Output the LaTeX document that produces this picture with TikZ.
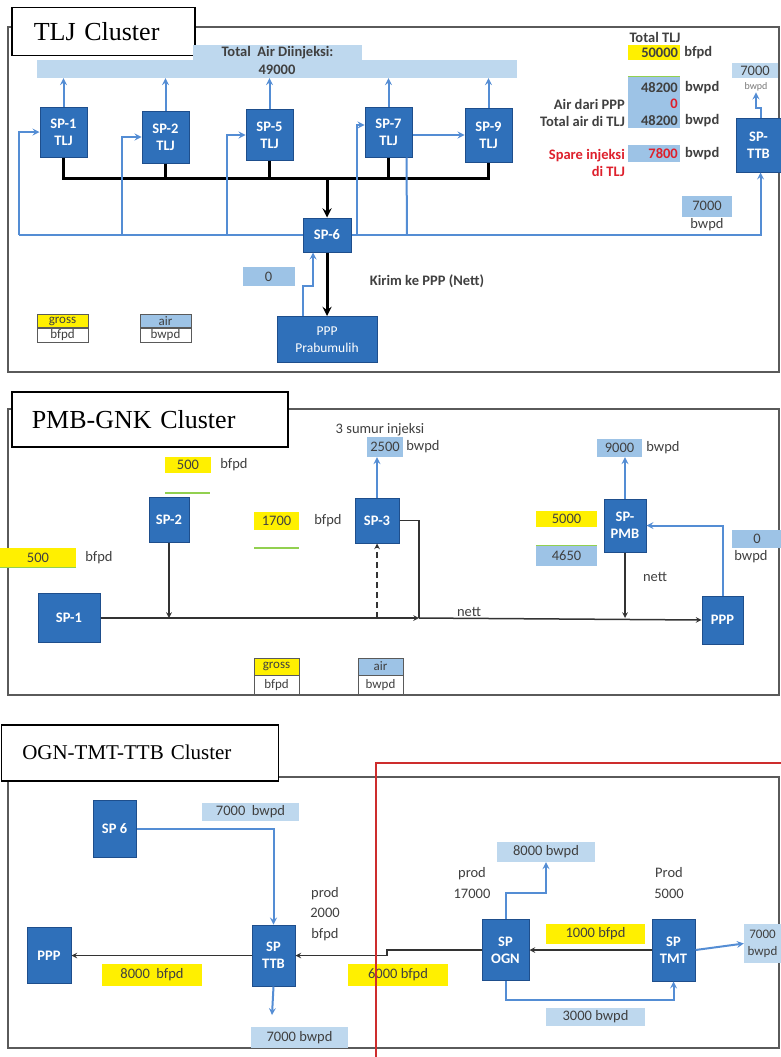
\documentclass[tikz,border=0pt]{standalone}
\usepackage{fontspec}
\setmainfont{Liberation Serif}
\setsansfont{Carlito}
\usetikzlibrary{shapes,arrows,positioning}

\definecolor{spblue}{RGB}{47,112,186}
\definecolor{spedge}{RGB}{30,78,140}
\definecolor{airblue}{RGB}{157,195,230}
\definecolor{paleblue}{RGB}{190,216,238}
\definecolor{grossyellow}{RGB}{255,240,0}
\definecolor{lineblue}{RGB}{84,141,212}
\definecolor{txtgray}{RGB}{64,64,64}
\definecolor{framegray}{RGB}{90,90,90}
\definecolor{sepgreen}{RGB}{146,208,80}
\definecolor{redtxt}{RGB}{222,32,44}
\definecolor{redframe}{RGB}{205,45,45}

\tikzstyle{sp} = [draw=spedge,fill=spblue,text=white,line width=1pt,font=\sffamily\bfseries\fontsize{14.5}{17}\selectfont,align=center,inner sep=0pt]
\tikzstyle{clustertitle} = [draw=black,fill=white,line width=1.5pt,font=\rmfamily\fontsize{26}{30}\selectfont,align=left,inner ysep=0pt]
\tikzstyle{lbl} = [font=\sffamily\fontsize{14.5}{17}\selectfont,text=txtgray,inner sep=1pt]
\tikzstyle{blbl} = [lbl,font=\sffamily\bfseries\fontsize{14.5}{17}\selectfont]
\tikzstyle{gross} = [lbl,fill=grossyellow,inner sep=0pt]
\tikzstyle{air} = [lbl,fill=airblue,inner sep=0pt]
\tikzstyle{pale} = [lbl,fill=paleblue,inner sep=0pt]
\tikzstyle{legendbox} = [lbl,draw=framegray,line width=0.6pt,font=\sffamily\fontsize{13}{14}\selectfont,inner sep=0pt]
\tikzstyle{bus} = [draw=black,line width=3pt]
\tikzstyle{flow} = [draw=black!80,line width=1.5pt]
\tikzstyle{water} = [draw=lineblue,line width=2pt]
\tikzstyle{clusterframe} = [draw=framegray,line width=1.8pt]
\tikzstyle{greenline} = [draw=sepgreen,line width=1.2pt]

\begin{document}
\begin{tikzpicture}[x=1pt,y=-1pt,>=stealth]
  \useasboundingbox (0,0) rectangle (781,1057);
  \clip (0,0) rectangle (781,1057);
  \fill[white] (0,0) rectangle (781,1057);

  %%%%% TLJ cluster
  \draw[clusterframe] (8,27) rectangle (779,372);
  \node[clustertitle,anchor=north west,text width=139,inner xsep=22,minimum height=48] (tljtitle) at (11,7) {TLJ Cluster};

  %injection bar
  \node[pale,minimum width=480,minimum height=18] (bar) at (277,69) {};
  \node[pale,minimum width=169,minimum height=16] (barcap) at (277.5,53) {};
  \node[blbl] (barlbl) at (277.5,53) {Total\ \ Air Diinjeksi:};
  \node[blbl] (barval) at (277,70) {49000};

  %SP boxes
  \node[sp,minimum width=47,minimum height=50] (sp1) at (63.5,132) {SP-1\\TLJ};
  \node[sp,minimum width=47,minimum height=52] (sp2) at (165.5,137) {SP-2\\TLJ};
  \node[sp,minimum width=47,minimum height=51] (sp5) at (269.5,135) {SP-5\\TLJ};
  \node[sp,minimum width=47,minimum height=50] (sp7) at (388.5,132) {SP-7\\TLJ};
  \node[sp,minimum width=47,minimum height=54] (sp9) at (488.5,135) {SP-9\\TLJ};
  \node[sp,minimum width=45,minimum height=54] (spttb) at (758.5,145) {SP-\\TTB};
  \node[sp,minimum width=48,minimum height=34] (sp6) at (327,235) {SP-6};
  \node[sp,minimum width=100,minimum height=46,font=\sffamily\fontsize{13.5}{17}\selectfont] (ppp) at (327,339.5) {PPP\\Prabumulih};

  %totals
  \node[blbl] (tljtot) at (655,37) {Total TLJ};
  \node[gross,minimum width=52,minimum height=15,text width=48,align=right] (tljgross) at (654,52.5) {\bfseries 50000};
  \node[blbl,right=3pt of tljgross] (tljgu) {bfpd};
  \node[air,minimum width=52,minimum height=51] (airblk) at (654,102.5) {};
  \draw[greenline] (airblk.north west) -- (airblk.north east);
  \node[blbl,anchor=east] (tljw1) at (679,88) {48200};
  \node[blbl,anchor=west] (tljw1u) at (684,88) {bwpd};
  \node[blbl,anchor=east] (ppplbl) at (626,104) {Air dari PPP};
  \node[blbl,anchor=east,text=redtxt] (pppval) at (679,104) {0};
  \node[blbl,anchor=east] (tljw2lbl) at (626,121) {Total air di TLJ};
  \node[blbl,anchor=east] (tljw2) at (679,121) {48200};
  \node[blbl,anchor=west] (tljw2u) at (684,121) {bwpd};
  \node[air,minimum width=52,minimum height=17] (spareblk) at (654,153.5) {};
  \node[blbl,anchor=east,text=redtxt] (spare) at (679,154) {7800};
  \node[blbl,anchor=west] (spareu) at (684,154) {bwpd};
  \node[blbl,anchor=east,text=redtxt,align=right] (sparelbl) at (626,162.5) {Spare injeksi\\di TLJ};

  %TTB water
  \node[pale,minimum width=46,minimum height=15] (ttbval) at (755,70.5) {7000};
  \node[lbl,font=\sffamily\fontsize{10}{12}\selectfont,text=txtgray!70] (ttbunit) at (756,87) {bwpd};
  \node[air,minimum width=50,minimum height=21] (ttbin) at (707,206) {7000};
  \node[lbl,below=1pt of ttbin] (ttbinu) {bwpd};

  \node[air,minimum width=52,minimum height=19] (retval) at (268.5,276.5) {0};
  \node[blbl] (kirim) at (427,281) {Kirim ke PPP (Nett)};

  %legend
  \node[legendbox,fill=grossyellow,minimum width=51,minimum height=13] (tljgr) at (62.5,321) {gross};
  \node[legendbox,below=0pt of tljgr,minimum width=51,minimum height=14] (tljbf) {bfpd};
  \node[legendbox,fill=airblue,minimum width=51,minimum height=13] (tljair) at (165.5,321) {air};
  \node[legendbox,below=0pt of tljair,minimum width=51,minimum height=14] (tljbw) {bwpd};

  %oil bus
  \coordinate (busl) at (63.5,178);
  \coordinate (busr) at (488.5,178);
  \draw[bus] (sp1.south) -- (busl) -- (busr) -- (sp9.south);
  \draw[bus] (sp2.south) -- (sp2.south |- busl);
  \draw[bus] (sp5.south) -- (sp5.south |- busl);
  \draw[bus] (sp7.south) -- (sp7.south |- busl);
  \draw[bus,->] (sp6.north |- busl) -- (sp6.north);
  \draw[bus,->] (sp6.south) -- (ppp.north);

  %injection arrows
  \draw[water,->] (sp1.north) -- (sp1.north |- bar.south);
  \draw[water,->] (sp2.north) -- (sp2.north |- bar.south);
  \draw[water,->] (sp5.north) -- (sp5.north |- bar.south);
  \draw[water,->] (sp7.north) -- (sp7.north |- bar.south);
  \draw[water,->] (sp9.north) -- (sp9.north |- bar.south);

  %water ring
  \coordinate (wl) at (19,235);
  \coordinate (w2) at (122,235);
  \coordinate (w5) at (227,235);
  \coordinate (w7) at (357,235);
  \coordinate (w7b) at (407,235);
  \draw[water] (sp6.west) -- (wl);
  \draw[water,->] (wl) |- (sp1.west);
  \draw[water,->] (w2) |- (sp2.west);
  \draw[water,->] (w5) |- (sp5.west);
  \draw[water,->] (w7) |- ([yshift=7pt]sp7.west);
  \draw[water] ([xshift=18pt]sp7.south) -- (w7b);
  \draw[water,->] (sp7.east |- sp9.west) -- (sp9.west);
  \draw[water,->] (sp6.east) -| ([xshift=2pt]spttb.south);
  \draw[water,->] ([xshift=2pt]spttb.north) -- ++(0,-10) -| (ttbunit.south);
  \draw[water,->] ([xshift=-24pt]ppp.north) -- ++(0,-30) -| ([xshift=-14pt]sp6.south);

  %%%%% PMB-GNK cluster
  \draw[clusterframe] (8,409) rectangle (779,695);
  \node[clustertitle,anchor=north west,text width=236,inner xsep=20,minimum height=55] (pmbtitle) at (11,391) {PMB-GNK Cluster};

  \node[sp,minimum width=62,minimum height=49] (pm1) at (69,618) {SP-1};
  \node[sp,minimum width=40,minimum height=45] (pm2) at (169,519.5) {SP-2};
  \node[sp,minimum width=44,minimum height=45] (pm3) at (377,520.5) {SP-3};
  \node[sp,minimum width=42,minimum height=53] (pmb) at (625,525.5) {SP-\\PMB};
  \node[sp,minimum width=41,minimum height=48] (pmppp) at (722.5,620) {PPP};

  %values
  \node[gross,minimum width=76,minimum height=19] (pm1g) at (38,557.5) {500};
  \draw[greenline] (pm1g.south west) -- (pm1g.south east);
  \node[lbl,right=8pt of pm1g] (pm1gu) {bfpd};
  \node[gross,minimum width=46,minimum height=16] (pm2g) at (188,465) {500};
  \node[lbl,right=8pt of pm2g] (pm2gu) {bfpd};
  \coordinate (pm2gl) at (165,493);
  \coordinate (pm2gr) at (210,493);
  \draw[greenline] (pm2gl) -- (pm2gr);
  \node[gross,minimum width=45,minimum height=18] (pm3g) at (276.5,521) {1700};
  \node[lbl,right=14pt of pm3g] (pm3gu) {bfpd};
  \coordinate (pm3gl) at (254,548);
  \coordinate (pm3gr) at (299,548);
  \draw[greenline] (pm3gl) -- (pm3gr);
  \node[lbl] (sumur) at (380,430) {3 sumur injeksi};
  \node[air,minimum width=36,minimum height=20] (pm3w) at (385,447) {2500};
  \node[lbl,right=2pt of pm3w] (pm3wu) {bwpd};
  \node[air,minimum width=45,minimum height=18] (pmbw) at (619.5,448) {9000};
  \node[lbl,right=3pt of pmbw] (pmbwu) {bwpd};
  \node[gross,minimum width=61,minimum height=16] (pmbg) at (566.5,519) {5000};
  \node[air,minimum width=61,minimum height=20] (pmbn) at (566.5,556) {4650};
  \draw[greenline] (pmbn.north west) -- (pmbn.north east);
  \node[air,minimum width=50,minimum height=18] (pppw) at (757,539) {0};
  \node[lbl,anchor=north] (pppwu) at (751,549) {bwpd};
  \node[lbl] (nett1) at (469,612) {nett};
  \node[lbl] (nett2) at (655,577) {nett};

  %legend
  \node[legendbox,fill=grossyellow,minimum width=45,minimum height=17] (pmbgr) at (276.5,666.5) {gross};
  \node[legendbox,below=0pt of pmbgr,minimum width=45,minimum height=19] (pmbbf) {bfpd};
  \node[legendbox,fill=airblue,minimum width=45,minimum height=17] (pmbair) at (380.5,666.5) {air};
  \node[legendbox,below=0pt of pmbair,minimum width=45,minimum height=19] (pmbbw) {bwpd};

  %flow lines
  \coordinate (m3) at (419,618);
  \draw[flow,->] (pm1.east) -- (m3);
  \draw[flow] (pm3.east) -| (m3);
  \draw[flow,->] (m3) -- (pmppp.west);
  \draw[flow,->] (pm2.south) -- (pm2.south |- m3);
  \draw[flow,dash pattern=on 6pt off 4pt,->] (pm3.south |- m3) -- (pm3.south);
  \draw[flow,->] (pmb.south) -- (pmb.south |- m3);
  \draw[water,->] (pm3.north) -- (pm3.north |- pm3w.south);
  \draw[water,->] (pmb.north) -- (pmb.north |- pmbw.south);
  \draw[water,->] (pmppp.north) |- (pmb.east);

  %%%%% OGN-TMT-TTB cluster
  \draw[clusterframe] (8,777) rectangle (779,1048);
  \node[clustertitle,anchor=north west,text width=235,inner xsep=21,minimum height=56,font=\rmfamily\fontsize{21}{25}\selectfont] (ogntitle) at (0.5,724) {OGN-TMT-TTB Cluster};

  \node[sp,minimum width=43,minimum height=57] (og6) at (114.5,828.5) {SP 6};
  \node[sp,minimum width=43,minimum height=61] (ogttb) at (273.5,955.5) {SP\\TTB};
  \node[sp,minimum width=44,minimum height=56] (ogppp) at (49,955.5) {PPP};
  \node[sp,minimum width=47,minimum height=61] (ogogn) at (505.5,950) {SP\\OGN};
  \node[sp,minimum width=43,minimum height=62] (ogtmt) at (673.5,950) {SP\\TMT};

  \node[pale,minimum width=97,minimum height=18] (og6w) at (250.5,812) {7000\ \ bwpd};
  \node[lbl,align=center,font=\sffamily\fontsize{14.5}{20.5}\selectfont] (ttbprod) at (325,914) {prod\\2000\\bfpd};
  \node[gross,minimum width=100,minimum height=22] (ttbg) at (152,975) {8000\ \ bfpd};
  \node[gross,minimum width=100,minimum height=22] (ogng) at (398,975) {6000 bfpd};
  \node[pale,minimum width=97,minimum height=21] (ttbw) at (299.5,1037.5) {7000 bwpd};
  \node[lbl,align=center,font=\sffamily\fontsize{14.5}{20.5}\selectfont] (ognprod) at (472,883) {prod\\17000};
  \node[pale,minimum width=98,minimum height=20] (ognw) at (546,852) {8000 bwpd};
  \node[lbl,align=center,font=\sffamily\fontsize{14.5}{20.5}\selectfont] (tmtprod) at (669,883) {Prod\\5000};
  \node[gross,minimum width=99,minimum height=20] (tmtg) at (595.5,934) {1000 bfpd};
  \node[pale,minimum width=99,minimum height=18] (ognt) at (595.5,1017) {3000 bwpd};
  \node[pale,minimum width=37,minimum height=39,align=center,font=\sffamily\fontsize{13}{17}\selectfont] (tmtw) at (762.5,943.5) {7000\\bwpd};

  %flow lines
  \coordinate (ogstep) at (387,950);
  \draw[flow,->] (ogttb.west) -- (ogppp.east);
  \draw[flow,->] (ogogn.west) -- (ogstep) |- (ogttb.east);
  \draw[flow,->] (ogtmt.west) -- (ogogn.east);
  \coordinate (ttbout) at (272,1015);
  \coordinate (ognbot) at (505.5,1000);
  \draw[water,->] (og6.east) -| (ogttb.north);
  \draw[water,->] (ogttb.south) -- (ttbout);
  \draw[water,->] (ogogn.north) -- ++(0,-26) -| (ognw.south);
  \draw[water,->] (ogogn.south) -- (ognbot) -| (ogtmt.south);
  \draw[water,->] (ogtmt.east) -- (tmtw.west);

  %red outline
  \draw[redframe,line width=1.2pt] (376,1060) -- (376,763) -- (790,763);
\end{tikzpicture}
\end{document}
